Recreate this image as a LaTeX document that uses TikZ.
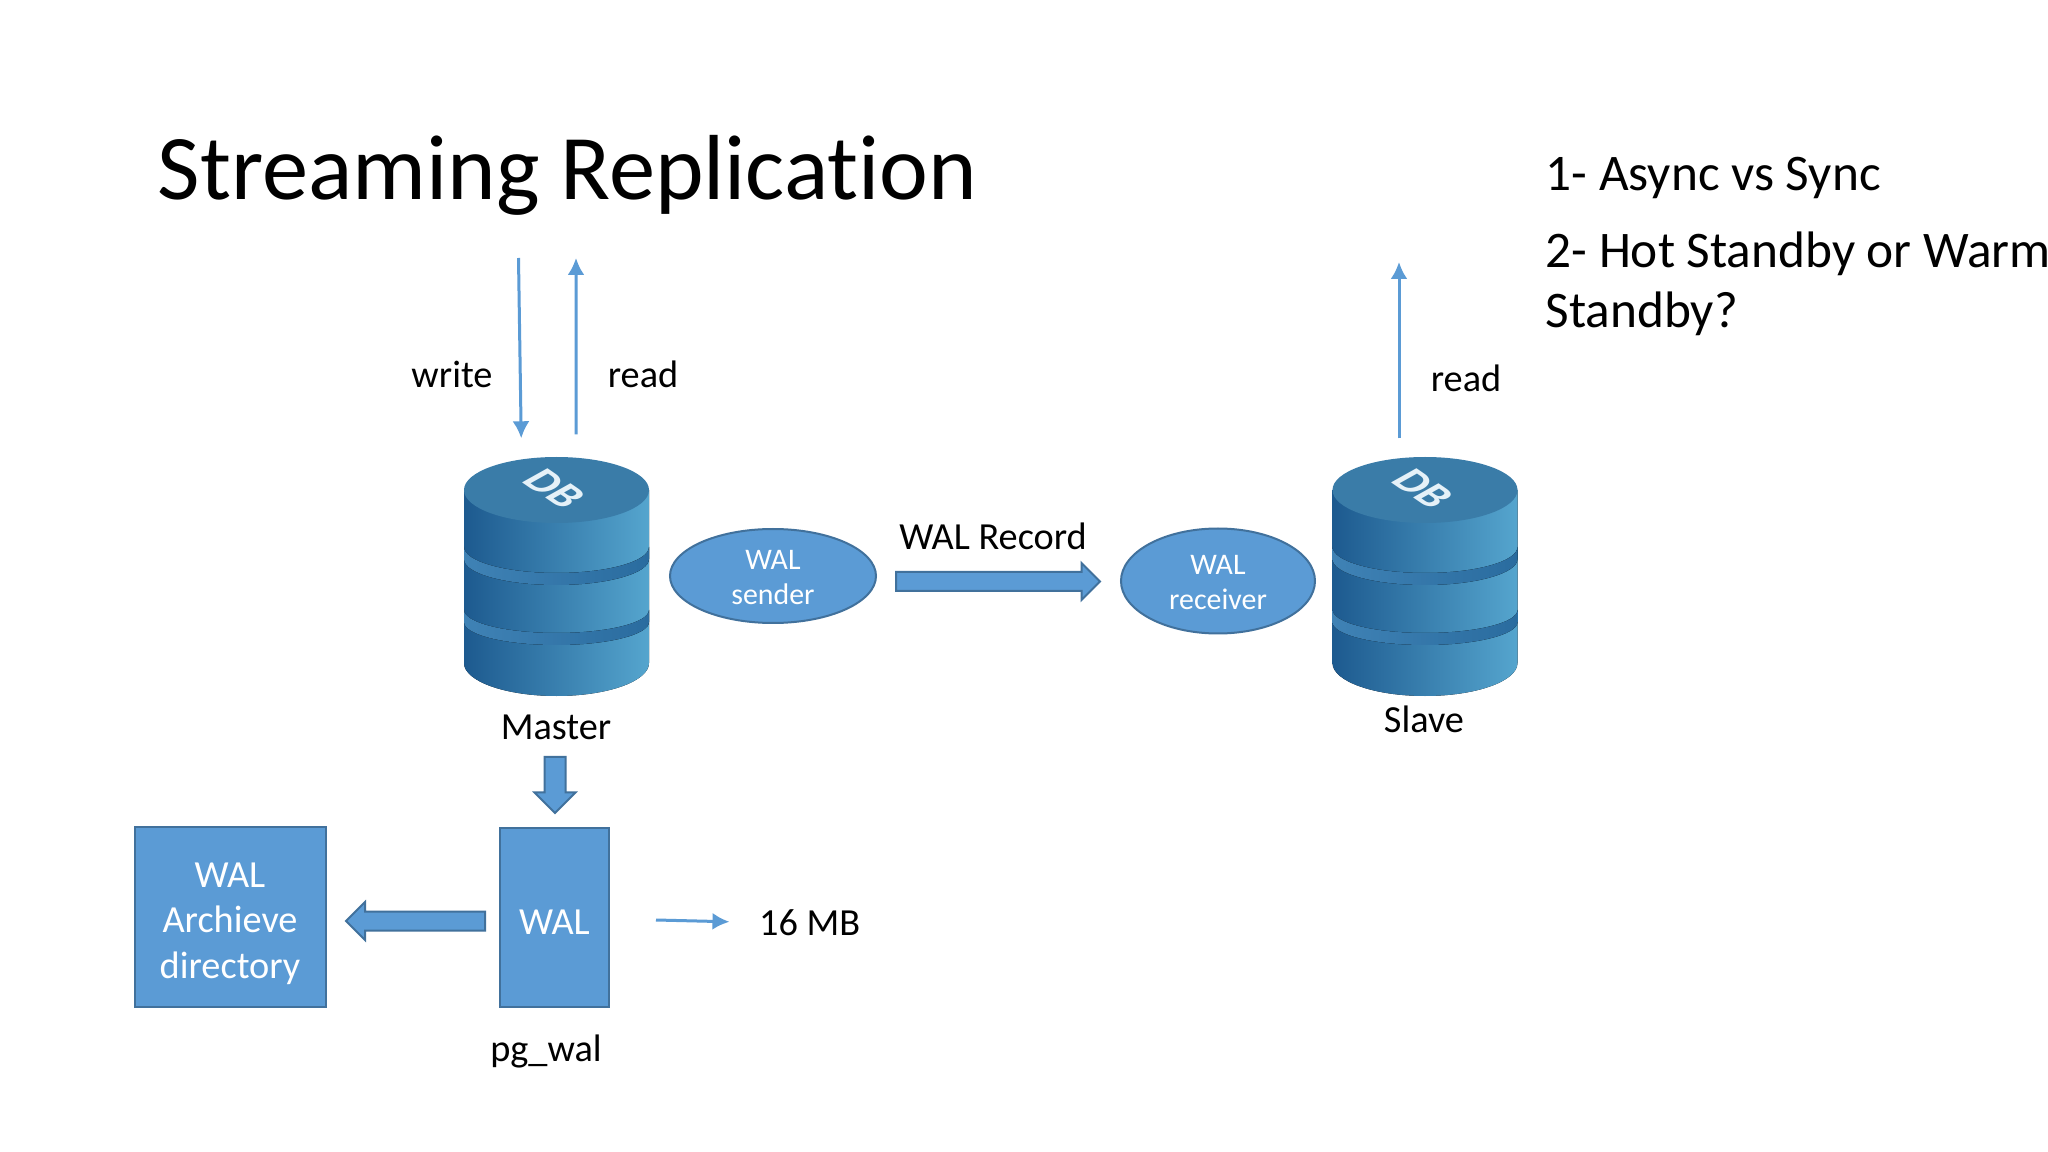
\documentclass[tikz,border=0pt]{standalone}
\usepackage{fontspec}
\setmainfont{Carlito}[Ligatures=NoCommon]
\usetikzlibrary{shapes,arrows,shadows}
\usetikzlibrary{arrows.meta}
\definecolor{slideBlue}{HTML}{5B9BD5}
\definecolor{slideEdge}{HTML}{41719C}
\definecolor{dbDark}{HTML}{1D5A8F}
\definecolor{dbLight}{HTML}{55A5CE}
\definecolor{dbTop}{HTML}{3A7CA8}
\definecolor{dbBandLeft}{HTML}{3F82B5}
\definecolor{dbBandRight}{HTML}{2A6C9F}
\tikzset{%
  >={Latex[width=1.7mm,length=1.7mm]},
  % looks of the nodes
      textLabel/.style = {inner sep=0pt, font=\fontsize{10.9}{13}\selectfont},
      listEntry/.style = {inner sep=0pt, anchor=west, align=left,
                          font=\fontsize{14.6}{17.1}\selectfont},
      slideBox/.style = {rectangle, draw=slideEdge, line width=0.2mm, fill=slideBlue,
                          text=white, align=center, inner sep=0pt,
                          font=\fontsize{10.9}{13}\selectfont},
      slideOval/.style = {ellipse, draw=slideEdge, line width=0.2mm, fill=slideBlue,
                          text=white, align=center, inner sep=0pt,
                          font=\fontsize{8.5}{10}\selectfont},
      fatArrow/.style = {single arrow, draw=slideEdge, line width=0.2mm, fill=slideBlue,
                          anchor=tail, inner xsep=0pt, inner ysep=.085cm,
                          single arrow head indent=0pt},
      thinArrow/.style = {->, draw=slideBlue, line width=0.3mm},
      dbStack/.style = {rectangle, minimum width=1.85cm, minimum height=2.39cm,
                          inner sep=0pt},
}
% three disks with the DB mark, drawn inside a node of style dbStack
\newcommand{\dbdisks}[1]{
  \begin{scope}[shift={(#1.center)}]
    \fill[left color=dbDark, right color=dbLight] (-.925,.865) -- (-.925,-.865)
      arc[start angle=180, end angle=360, x radius=.925, y radius=.33]
      -- (.925,.865) -- cycle;
    \fill[left color=dbBandLeft, right color=dbBandRight] (-.925,.295)
      arc[start angle=180, end angle=360, x radius=.925, y radius=.26]
      -- (.925,.175)
      arc[start angle=360, end angle=180, x radius=.925, y radius=.26] -- cycle;
    \fill[left color=dbBandLeft, right color=dbBandRight] (-.925,-.335)
      arc[start angle=180, end angle=360, x radius=.925, y radius=.23]
      -- (.925,-.455)
      arc[start angle=360, end angle=180, x radius=.925, y radius=.23] -- cycle;
    \fill[dbTop] (0,.865) ellipse[x radius=.925, y radius=.33];
    \begin{scope}[yscale=.62]
      \node[text=white!85!dbLight, transform shape, rotate=-48, inner sep=0pt,
        font=\fontsize{15}{15}\selectfont\bfseries] at (-.02,1.42) {DB};
    \end{scope}
  \end{scope}
}

\begin{document}
\begin{tikzpicture}
  \useasboundingbox[fill=white] (0,0) rectangle (20.48,-11.52);

  % title and the list on the right
  \node (title) at (1.57,-1.75) [anchor=west, inner sep=0pt,
    font=\fontsize{26.3}{30}\selectfont] {Streaming Replication};
  \node (listOne) at (15.45,-1.78) [listEntry] {1- Async vs Sync};
  \node (listTwo) at (15.45,-2.84) [listEntry] {2- Hot Standby or Warm\\Standby?};

  % databases
  \node (master) at (5.565,-5.765) [dbStack] {};
  \node (slave) at (14.25,-5.765) [dbStack] {};
  \dbdisks{master}
  \dbdisks{slave}
  \node (masterName) at (5.56,-7.27) [textLabel] {Master};
  \node (slaveName) at (14.24,-7.19) [textLabel] {Slave};

  % wal processes
  \node (sender) at (7.73,-5.76) [slideOval, minimum width=2.06cm, minimum height=.94cm] {\rule{0pt}{6.2pt}WAL\\sender};
  \node (receiver) at (12.18,-5.81) [slideOval, minimum width=1.94cm, minimum height=1.05cm] {\rule{0pt}{6.2pt}WAL\\receiver};
  \node (walRecord) at (8.95,-5.815) [fatArrow, minimum height=2.04cm, minimum width=.35cm,
    single arrow head extend=.09cm] {};
  \node (recordName) at (9.93,-5.36) [textLabel] {WAL Record};

  % wal files
  \node (walBox) at (5.545,-9.175) [slideBox, minimum width=1.09cm, minimum height=1.79cm] {\rule{0pt}{9.5pt}WAL};
  \node (archive) at (2.30,-9.17) [slideBox, minimum width=1.91cm, minimum height=1.80cm] {\rule{0pt}{10.7pt}WAL\\Archieve\\directory};
  \node (toWal) at (5.55,-7.56) [fatArrow, shape border rotate=270, minimum height=.56cm,
    minimum width=.39cm, inner xsep=.095cm, inner ysep=0pt, single arrow head extend=.10cm] {};
  \node (toArchive) at (4.86,-9.21) [fatArrow, shape border rotate=180, minimum height=1.39cm,
    minimum width=.37cm, single arrow head extend=.095cm] {};
  \node (walName) at (5.46,-10.51) [textLabel] {pg\_wal};
  \node (sizeName) at (7.585,-9.225) [textLabel, anchor=west] {16 MB};

  % free ends of the thin arrows
  \coordinate (writeTop) at (5.185,-2.58);
  \coordinate (readTop) at (5.76,-2.58);
  \coordinate (slaveTop) at (13.99,-2.62);
  \coordinate (sizeStart) at (6.56,-9.20);

  \draw[thinArrow, shorten >=.18cm] (writeTop) -- ([xshift=-.35cm]master.north);
  \draw[thinArrow, shorten <=.22cm] ([xshift=.195cm]master.north) -- (readTop);
  \draw[thinArrow, shorten <=.18cm] ([xshift=-.26cm]slave.north) -- (slaveTop);
  \draw[thinArrow, shorten >=.29cm] (sizeStart) -- (sizeName.west);

  \node (writeName) at (4.52,-3.74) [textLabel] {write};
  \node (readName) at (6.43,-3.74) [textLabel] {read};
  \node (slaveRead) at (14.66,-3.78) [textLabel] {read};
\end{tikzpicture}
\end{document}
